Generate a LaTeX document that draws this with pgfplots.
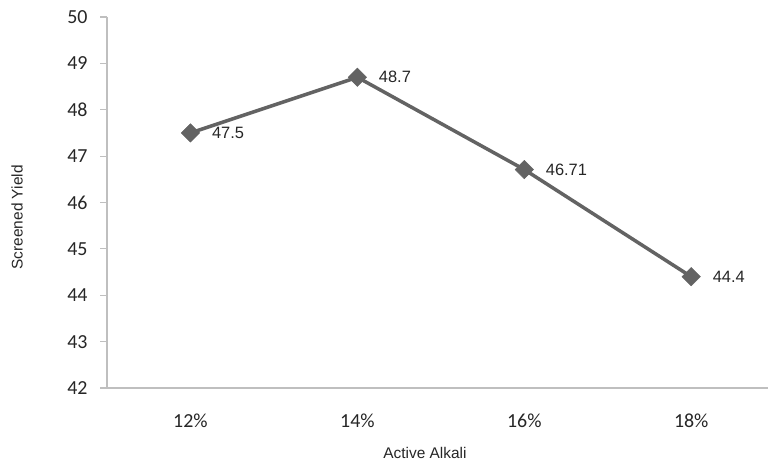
\documentclass[border=0pt]{standalone}
\usepackage{fontspec}
\setmainfont{Liberation Sans}
\newfontfamily\calibri{Carlito}
\usepackage{pgfplots}
\pgfplotsset{compat=1.18}
\definecolor{axisgray}{HTML}{BFBFBF}
\definecolor{linegray}{HTML}{636363}
\definecolor{txt}{HTML}{262626}
\begin{document}
\begin{tikzpicture}[x=1bp,y=1bp]
\path[use as bounding box] (0,0) rectangle (768,466);
\begin{axis}[
  at={(107bp,78bp)}, anchor=south west,
  scale only axis, width=661bp, height=371bp,
  xmin=-0.5, xmax=3.46, ymin=42, ymax=50,
  axis x line*=bottom, axis y line*=left,
  axis line style={axisgray, line width=1.2bp},
  xtick={0,1,2,3}, xticklabels={12\%,14\%,16\%,18\%},
  x tick style={draw=none},
  ytick={42,43,...,50},
  y tick style={axisgray, line width=1.2bp},
  tick align=outside, major tick length=7bp,
  /pgf/number format/assume math mode=true,
  ticklabel style={font=\calibri\fontsize{20}{22}\selectfont, text=txt},
  yticklabel style={xshift=-9bp},
  xticklabel style={yshift=-15bp},
  xlabel={Active Alkali}, ylabel={Screened Yield},
  label style={font=\fontsize{15.5}{17}\selectfont, text=txt},
  xlabel style={at={(axis description cs:0.481,-0.175)}, anchor=center},
  ylabel style={at={(axis description cs:-0.136,0.46)}, anchor=center, rotate=0},
  clip=false,
  nodes near coords, point meta=explicit symbolic,
  every node near coord/.append style={anchor=west, xshift=18bp, font=\fontsize{16.5}{18}\selectfont, text=txt},
]
\addplot[color=linegray, line width=3.5bp, mark=square*, mark size=6.5bp,
  mark options={rotate=45, fill=linegray, draw=linegray, line width=0.5bp}]
  coordinates {(0,47.5)[47.5] (1,48.7)[48.7] (2,46.71)[46.71] (3,44.4)[44.4]};
\end{axis}
\end{tikzpicture}
\end{document}
